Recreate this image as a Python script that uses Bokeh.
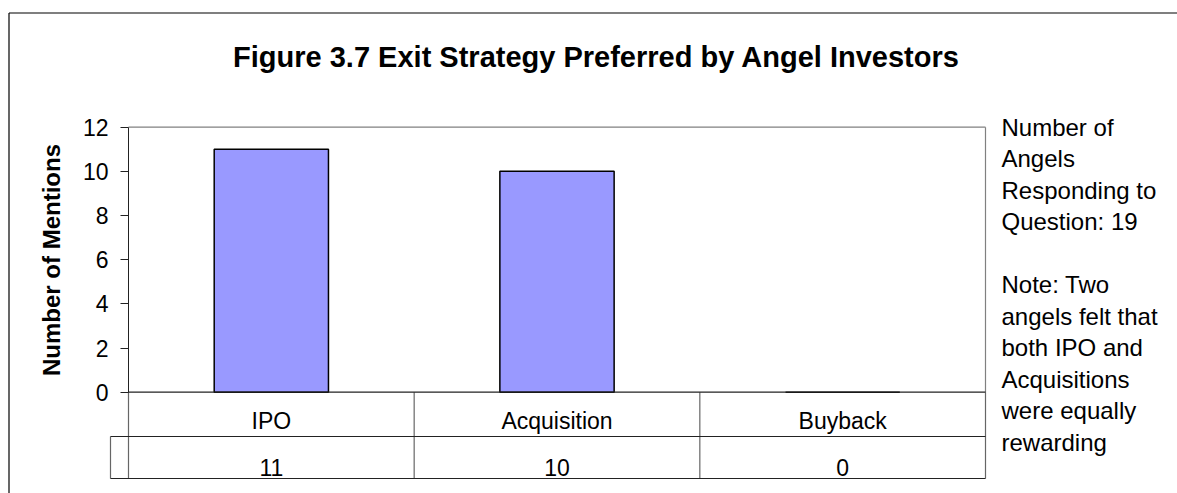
from bokeh.plotting import figure
from bokeh.models import Range1d, LinearAxis, FixedTicker
from bokeh.core.properties import value
from bokeh.embed import file_html
from bokeh.resources import INLINE

# ---- data ----
title = "Figure 3.7 Exit Strategy Preferred by Angel Investors"
categories = ["IPO", "Acquisition", "Buyback"]
mentions = [11, 10, 0]
y_ticks = [0, 2, 4, 6, 8, 10, 12]
y_label = "Number of Mentions"
side_note = ["Number of", "Angels", "Responding to", "Question: 19", "",
             "Note: Two", "angels felt that", "both IPO and", "Acquisitions",
             "were equally", "rewarding"]

# ---- layout (page pixels) ----
W, H = 1177, 493
OX, OY = 0, 0
PL, PR, PT, PB = 128, 985, 126.7, 391.7
YMAX = 12
ncat = len(categories)
sx = (PR - PL) / ncat
sy = (PB - PT) / YMAX


def X(px):
    return (px - PL) / sx


def Y(py):
    return (PB - py) / sy


FONT = value("Liberation Sans")

p = figure(width=W, height=H, output_backend="svg", toolbar_location=None, tools="",
           x_range=Range1d(X(OX), X(OX + W)), y_range=Range1d(Y(OY + H), Y(OY)),
           x_axis_location=None, y_axis_location=None, min_border=0,
           outline_line_color=None, background_fill_color="white",
           border_fill_color="white")
p.grid.visible = False

yax = LinearAxis(fixed_location=0, bounds=(0, YMAX), ticker=FixedTicker(ticks=y_ticks),
                 axis_label=y_label, axis_label_text_font="Liberation Sans",
                 axis_label_text_font_style="bold", axis_label_text_font_size="24px",
                 axis_label_text_color="black", axis_label_standoff=15,
                 major_label_text_font="Liberation Sans", major_label_text_font_size="23px",
                 major_label_text_color="black", major_label_standoff=12,
                 major_tick_out=8, major_tick_in=0, minor_tick_out=0, minor_tick_in=0,
                 axis_line_color="#222222", major_tick_line_color="#222222")
p.add_layout(yax, "left")

# outer chart border (top and left visible)
p.segment(x0=[X(8.5), X(8.5)], y0=[Y(12.5), Y(12.5)], x1=[X(OX + W), X(8.5)],
          y1=[Y(12.5), Y(OY + H)], line_color="black", line_width=1.2)

# plot area border: top and right (gray)
p.segment(x0=[0, ncat], y0=[YMAX, YMAX], x1=[ncat, ncat], y1=[YMAX, 0],
          line_color="#808080", line_width=1.2)

# bars
xs = [i + 0.5 for i in range(ncat)]
p.vbar(x=xs, top=mentions, bottom=0, width=0.4, fill_color="#9999FF",
       line_color="black", line_width=1.5)

# table under the plot
r1 = Y(436)
r2 = Y(478)
stub = X(110)
p.segment(x0=[0, 1, 2, ncat, stub], y0=[0, 0, 0, 0, r1],
          x1=[0, 1, 2, ncat, stub], y1=[r2, r2, r2, r2, r2],
          line_color="#666666", line_width=1.2)
p.segment(x0=[0, stub, stub], y0=[0, r1, r2], x1=[ncat, ncat, ncat], y1=[0, r1, r2],
          line_color="#222222", line_width=1.2)

p.text(x=xs, y=[Y(420)] * ncat, text=categories, text_align="center",
       text_baseline="alphabetic", text_font=FONT, text_font_size="23px",
       text_color="black")
p.text(x=xs, y=[Y(466.5)] * ncat, text=[str(v) for v in mentions], text_align="center",
       text_baseline="alphabetic", text_font=FONT, text_font_size="23px",
       text_color="black")

# title
p.text(x=[X(596)], y=[Y(56.7)], text=[title], text_align="center",
       text_baseline="alphabetic", text_font=FONT, text_font_size="29px",
       text_font_style="bold", text_color="black")

# side note
p.text(x=[X(1001)] * len(side_note),
       y=[Y(126.7 + 31.5 * i) for i in range(len(side_note))],
       text=side_note, text_align="left", text_baseline="alphabetic",
       text_font=FONT, text_font_size="24px", text_color="black")

open("out.html", "w").write(file_html(p, INLINE))
